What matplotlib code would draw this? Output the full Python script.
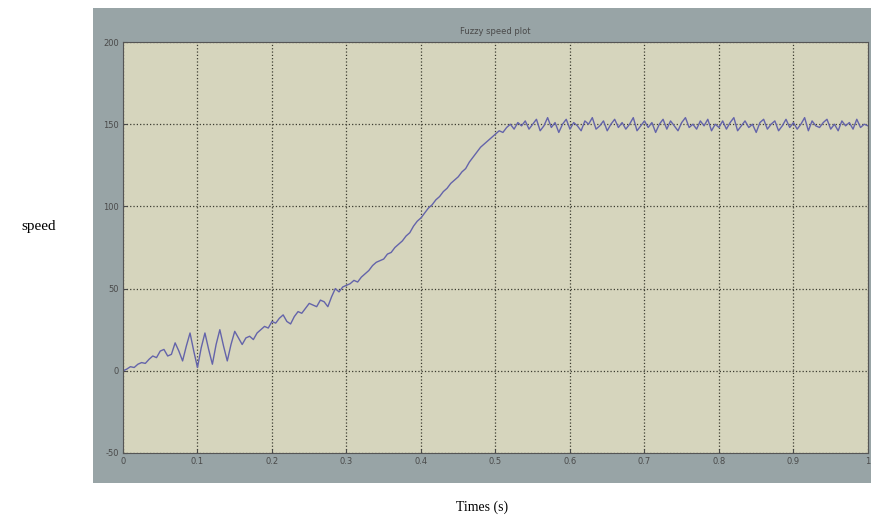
import numpy as np
import matplotlib
matplotlib.use('Agg')
import matplotlib.pyplot as plt

# speed samples (uniform time step from 0 to 1 s)
speed = [
    0, 1, 2.5, 2, 4, 5, 4.5, 7, 9, 8,
    12, 13, 9, 10, 17, 12, 6, 15, 23, 12,
    2, 14, 23, 13, 4, 16, 25, 15, 6, 16,
    24, 20, 16, 20, 21, 19, 23, 25, 27, 26,
    30, 29, 32, 34, 30, 28.5, 33, 36, 35, 38,
    41, 40, 39, 43, 42, 39, 45, 50, 48, 51,
    52, 53, 55, 54, 57, 59, 61, 64, 66, 67,
    68, 71, 72, 75, 77, 79, 82, 84, 88, 91,
    93, 96, 99, 101, 104, 106, 109, 111, 114, 116,
    118, 121, 123, 127, 130, 133, 136, 138, 140, 142,
    144, 146, 145, 148, 150, 147, 151, 149,
    152, 147, 150, 153, 146, 149, 154, 148, 151, 145,
    150, 153, 147, 151, 149, 146, 152, 150, 154, 147,
    149, 152, 146, 150, 153, 148, 151, 147, 150, 154,
    146, 149, 152, 148, 151, 145, 150, 153, 147, 152,
    149, 146, 151, 154, 148, 150, 147, 152, 149, 153,
    146, 150, 148, 152, 147, 151, 154, 146, 149, 152,
    148, 150, 145, 151, 153, 147, 150, 152, 146, 149,
    153, 148, 151, 147, 150, 154, 146, 152, 149, 148,
    151, 153, 147, 150, 146, 152, 149, 151, 147, 153,
    148, 150, 149,
]
time = np.linspace(0, 1, len(speed))

x_ticks = [0, 0.1, 0.2, 0.3, 0.4, 0.5, 0.6, 0.7, 0.8, 0.9, 1]
x_labels = ['0', '0.1', '0.2', '0.3', '0.4', '0.5', '0.6', '0.7', '0.8', '0.9', '1']
y_ticks = [-50, 0, 50, 100, 150, 200]
y_labels = ['-50', '0', '50', '100', '150', '200']

fig = plt.figure(figsize=(8.71, 5.18), dpi=100)
fig.patch.set_facecolor('white')

# grey window panel behind the plot (MATLAB-like)
panel = fig.add_axes([0.1068, 0.0676, 0.893, 0.917])
panel.set_facecolor('#98a4a6')
panel.set_xticks([])
panel.set_yticks([])
for s in panel.spines.values():
    s.set_visible(False)

ax = fig.add_axes([0.1412, 0.1255, 0.8553, 0.7934])
ax.set_facecolor('#d6d5bd')
ax.plot(time, speed, color='#6464aa', linewidth=1.0)

ax.set_xlim(0, 1)
ax.set_ylim(-50, 200)
ax.set_xticks(x_ticks)
ax.set_xticklabels(x_labels)
ax.set_yticks(y_ticks)
ax.set_yticklabels(y_labels)
ax.tick_params(direction='in', length=3, labelsize=6, colors='#4a4a4a', pad=3)
ax.grid(True, linestyle=':', color='#3c3c30', linewidth=0.9)
for s in ax.spines.values():
    s.set_color('#555555')
    s.set_linewidth(0.8)

ax.set_title('Fuzzy speed plot', fontsize=6, color='#4a4a4a', pad=6)

fig.text(0.025, 0.563, 'speed', fontsize=11, family='Liberation Serif', va='center')
fig.text(0.553, 0.02, 'Times (s)', fontsize=10, family='Liberation Serif',
         ha='center', va='center')

fig.savefig('out.png', dpi=100)
